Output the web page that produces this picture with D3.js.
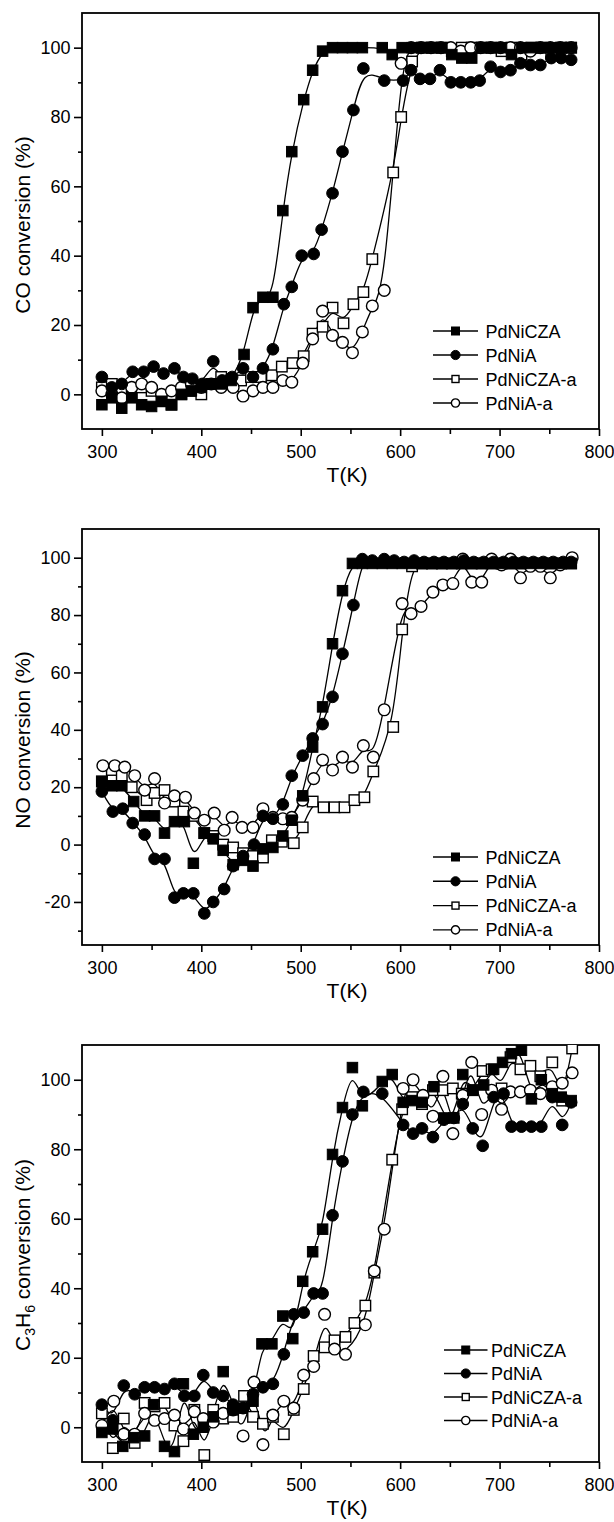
<!DOCTYPE html>
<html>
<head>
<meta charset="utf-8">
<script src="https://cdn.jsdelivr.net/npm/d3@7"></script>
<style>
  body { margin: 0; background: #fff; }
  svg text { font-family: "Liberation Sans", Arial, sans-serif; fill: #000; }
</style>
</head>
<body>
<svg id="chart" width="614" height="1522"></svg>
<script>
// ---- data: [T (K), conversion (%)] ----
const seriesNames = ['PdNiCZA', 'PdNiA', 'PdNiCZA-a', 'PdNiA-a'];

// CO conversion
const coCZA = [[300,-3],[310,-1],[320,-4],[330,-1],[340,-3],[350,-3.5],[360,-2],[370,-3],[380,0],[390,1],[400,2],[410,3],[420,3],[430,4],[443,11.5],[452,25],[462,28],[472,28],[482,53],[491,70],[503,85],[512,93.5],[522,99],[532,100],[542,100],[552,100],[562,100],[582,100],[592,98],[602,100],[612,100],[622,100],[632,100],[642,100],[652,98],[662,97],[672,97],[682,100],[692,100],[702,100],[712,98],[722,100],[732,100],[742,100],[752,100],[762,100],[772,100]];
const coA = [[300,5],[310,2],[320,3],[331,6.5],[342,6.5],[352,8],[362,6],[373,7.5],[382,5],[391,4.5],[401,3],[412,9.5],[421,4],[431,5],[442,7.5],[452,5],[462,7.5],[472,13],[483,26],[491,31],[501,40],[513,40.5],[521,47.5],[532,58],[542,70],[553,82],[563,94],[584,90.5],[603,90.5],[611,93.5],[620,91],[630,91],[640,93.5],[651,90],[661,90],[671,90],[680,90.5],[691,94.5],[701,93],[711,93.5],[721,95.5],[731,95],[741,95],[752,97],[762,97],[772,96.5]];
const coCZAa = [[300,2],[310,3],[320,1],[330,0],[340,2],[350,1],[360,-2],[370,-3],[380,0],[390,1],[400,0],[410,3],[420,5],[430,4],[440,4],[450,5],[460,5],[471,5.5],[481,8],[492,9],[503,11],[512,17.5],[522,19.5],[532,25],[543,20.5],[553,26],[563,29.5],[572,39],[593,64],[601,80],[612,96],[622,100],[632,100],[642,100],[652,99],[662,100],[672,100],[682,100],[692,100],[702,99],[712,100],[722,98],[732,100],[742,100],[752,99],[762,100],[772,100]];
const coAa = [[300,1],[310,0],[320,-1],[330,2],[340,3],[350,2],[360,0],[370,1],[380,2],[390,3],[400,2],[410,3],[420,2],[432,2],[442,-0.5],[452,1],[462,2],[472,2],[482,4],[491,3.5],[502,9],[512,16],[522,24],[532,17],[542,15],[552,12],[562,18],[572,25.5],[584,30],[601,95.5],[611,100],[621,100],[631,100],[641,100],[651,100],[661,99],[671,100],[681,100],[691,100],[701,100],[711,100],[721,100],[731,99],[741,100],[751,100],[761,100],[772,100]];

// NO conversion
const noCZA = [[300,22],[310,20.5],[320,20.5],[332,15],[343,10],[353,10],[363,4],[373,8],[383,8],[392,-6.5],[403,4],[412,2],[422,-2],[432,-7],[442,-5.5],[452,-7.5],[462,-1.5],[472,-1],[482,3],[491,8.5],[502,17],[512,34],[522,48],[532,70],[542,88.5],[552,98],[562,98],[572,98],[582,98],[592,98],[602,98],[612,98],[622,98],[632,98],[642,98],[652,98],[662,98],[672,98],[682,98],[692,98],[702,98],[712,98],[722,98],[732,98],[742,98],[752,98],[762,98],[772,98]];
const noA = [[300,18.5],[311,11.5],[321,12.5],[331,7.5],[343,3.5],[353,-5],[363,-5],[373,-18.5],[382,-17],[392,-17],[403,-24],[412,-20],[423,-15.5],[432,-7.5],[442,-4],[453,0],[462,10],[472,9],[482,14],[491,24],[502,31],[512,37],[522,42],[532,51.5],[542,66.5],[553,83.5],[562,99.5],[572,99],[584,99.5],[594,99],[604,98.5],[614,99],[624,98.5],[634,98.5],[644,98.5],[654,98.5],[664,99],[674,98.5],[684,98.5],[694,98.5],[704,98.5],[714,98.5],[724,98.5],[734,98.5],[744,98.5],[754,98.5],[764,98.5],[772,98.5]];
const noCZAa = [[300,22],[310,26],[320,24],[330,20],[345,15.5],[353,18],[363,19],[373,15],[382,11.5],[392,10],[403,4],[412,3],[422,0],[432,-1],[442,-3],[452,-4],[462,-4.5],[471,1.5],[481,1],[493,0.5],[502,6],[512,15],[523,13],[534,13],[544,13],[554,15.5],[564,16.5],[573,25.5],[593,41],[602,75],[612,97],[622,98],[632,98],[642,98],[652,98],[662,98],[672,98],[682,98],[692,98],[702,98],[712,98],[722,98],[732,98],[742,98],[752,98],[762,98],[772,98]];
const noAa = [[301,27.5],[313,27.5],[323,27],[333,24],[343,19],[353,23],[363,14.5],[373,17],[384,16.5],[393,11],[403,8.5],[413,11],[423,5],[431,9.5],[441,6],[452,6],[462,12.5],[472,9.5],[482,9],[491,9.5],[502,15.5],[513,23],[522,29.5],[532,26],[542,30.5],[552,27],[563,34.5],[573,30.5],[584,47],[602,84],[611,80.5],[621,83],[633,88],[643,90.5],[653,91],[663,99.5],[672,91.5],[682,91.5],[692,99.5],[702,97.5],[711,99.5],[721,93],[731,97],[741,97],[751,93],[761,97.5],[773,100]];

// C3H6 conversion
const hcCZA = [[300,-1.5],[311,-0.5],[321,-5.5],[332,-3],[343,-2.5],[352,6.5],[363,-5.5],[373,-7],[382,12.5],[392,-2],[402,0],[412,3],[422,16],[432,5],[441,5.5],[452,7.5],[461,24],[471,24],[482,32],[492,25.5],[502,42],[512,50.5],[522,57],[532,78.5],[542,92],[552,103.5],[562,92.5],[582,99.5],[592,101.5],[603,93.5],[612,94],[622,93.5],[634,98],[644,89],[654,89],[663,101.5],[673,97],[684,98.5],[694,103],[703,105],[712,107.5],[722,108.5],[732,94.5],[742,100],[753,96],[762,95],[772,94]];
const hcA = [[300,6.5],[311,2],[322,12],[333,9.5],[343,11.5],[353,11.5],[363,11],[373,12.5],[383,9],[393,9],[402,15],[412,10],[422,9],[432,6.5],[442,5.5],[452,9.5],[462,11.5],[472,12.5],[483,21],[493,32.5],[503,33],[513,38.5],[522,38.5],[532,61],[542,76.5],[552,90],[563,96.5],[582,96],[603,87],[613,84.5],[622,86],[633,83.5],[644,88.5],[654,89],[663,93],[673,86],[683,81],[694,95],[704,96],[712,86.5],[722,86.5],[732,86.5],[742,86.5],[753,95],[763,87],[772,93.5]];
const hcCZAa = [[300,4],[311,-6],[322,2.5],[333,-4.5],[343,7],[353,6],[363,7],[373,0.5],[382,-4],[393,5],[403,-8],[412,5],[422,2.5],[432,3],[443,9],[452,3],[462,1],[472,3],[483,-2],[493,5],[503,11],[513,20.5],[524,23],[534,25],[545,26],[554,30],[565,35],[574,44.5],[592,77],[602,91.5],[612,95],[622,93],[633,97],[643,97],[653,97.5],[662,96],[673,97],[683,102.5],[692,103],[702,97.5],[711,106.5],[721,103],[731,104],[741,101],[753,105],[763,94],[773,109]];
const hcAa = [[300,0.5],[312,7.5],[322,-2],[333,-2],[343,4],[353,2],[363,2.5],[373,3.5],[382,-0.5],[393,4.5],[402,2.5],[412,1.5],[422,4],[432,5],[442,-2.5],[453,13],[462,-5],[472,3.5],[483,7.5],[493,5.5],[503,15],[513,17.5],[524,32.5],[534,22.5],[545,21],[565,29.5],[574,45],[584,57],[603,97.5],[613,100],[623,95.5],[633,89.5],[643,101],[653,84.5],[663,95.5],[672,105],[682,90],[692,97],[702,91.5],[711,96.5],[721,96.5],[731,97],[741,96],[753,98],[763,99],[773,102]];

const xMajor = [300, 400, 500, 600, 700, 800];
const xMinor = [350, 450, 550, 650, 750];

// ---- layout ----
const svg = d3.select('#chart');
const plotLeft = 82, plotRight = 599;
const x = d3.scaleLinear().domain([280, 800]).range([plotLeft, plotRight]);

const markers = {
    'PdNiCZA':   { shape: 'square', filled: true },
    'PdNiA':     { shape: 'circle', filled: true },
    'PdNiCZA-a': { shape: 'square', filled: false },
    'PdNiA-a':   { shape: 'circle', filled: false }
};

function drawMarker(sel, name, size) {
    const m = markers[name];
    if (m.shape === 'square') {
        sel.append('rect')
            .attr('x', -size / 2).attr('y', -size / 2)
            .attr('width', size).attr('height', size);
    } else {
        sel.append('circle').attr('r', size / 2 + 0.6);
    }
    sel.selectAll('rect, circle')
        .attr('fill', m.filled ? '#000' : '#fff')
        .attr('stroke', '#000')
        .attr('stroke-width', m.filled ? 1 : 1.4);
}

// plain hyphen for negatives, as in the original figure
const fmt = d => String(d);

function drawPanel(p, idx) {
    const y = d3.scaleLinear().domain(p.yDomain).range([p.bottom, p.top]);
    const g = svg.append('g');

    const clipId = 'clip' + idx;
    svg.append('clipPath').attr('id', clipId)
        .append('rect')
        .attr('x', plotLeft).attr('y', p.top)
        .attr('width', plotRight - plotLeft).attr('height', p.bottom - p.top);

    // axes
    g.append('g').attr('transform', `translate(0,${p.bottom})`)
        .call(d3.axisBottom(x).tickValues(xMajor).tickSize(7).tickPadding(9).tickFormat(fmt));
    g.append('g').attr('transform', `translate(0,${p.bottom})`)
        .call(d3.axisBottom(x).tickValues(xMinor).tickSize(5).tickFormat(''));
    g.append('g').attr('transform', `translate(${plotLeft},0)`)
        .call(d3.axisLeft(y).tickValues(p.yMajor).tickSize(8).tickPadding(3.5).tickFormat(fmt));
    g.append('g').attr('transform', `translate(${plotLeft},0)`)
        .call(d3.axisLeft(y).tickValues(p.yMinor).tickSize(4).tickFormat(''));

    g.selectAll('.domain').remove();
    g.selectAll('.tick line').attr('stroke', '#000').attr('stroke-width', 1.6);
    g.selectAll('.tick text').attr('font-size', 18)
        .style('font-family', '"Liberation Sans", Arial, sans-serif');

    // frame
    g.append('rect')
        .attr('x', plotLeft).attr('y', p.top)
        .attr('width', plotRight - plotLeft).attr('height', p.bottom - p.top)
        .attr('fill', 'none').attr('stroke', '#000').attr('stroke-width', 1.8);

    // axis titles
    g.append('text')
        .attr('x', 347).attr('y', p.bottom + 53)
        .attr('text-anchor', 'middle').attr('font-size', 21)
        .text('T(K)');

    const yTitle = g.append('text')
        .attr('transform', `translate(30,${p.titleY}) rotate(-90)`)
        .attr('text-anchor', 'middle').attr('font-size', 21);
    p.yTitle.forEach(part => {
        const t = yTitle.append('tspan').text(part.text);
        if (part.sub) t.attr('font-size', 14).attr('dy', 5);
        else if (part.after) t.attr('dy', -5);
    });

    // series: open symbols underneath, filled symbols on top
    const line = d3.line()
        .x(d => x(d[0]))
        .y(d => y(d[1]))
        .curve(d3.curveBasis);

    const plot = g.append('g').attr('clip-path', `url(#${clipId})`);
    const order = ['PdNiCZA-a', 'PdNiA-a', 'PdNiA', 'PdNiCZA'];
    order.forEach(name => {
        plot.append('path')
            .datum(p.series[name])
            .attr('d', line)
            .attr('fill', 'none')
            .attr('stroke', '#000')
            .attr('stroke-width', 1.3);
    });
    order.forEach(name => {
        plot.selectAll(null)
            .data(p.series[name])
            .enter()
            .append('g')
            .attr('transform', d => `translate(${x(d[0])},${y(d[1])})`)
            .each(function () { drawMarker(d3.select(this), name, 10.5); });
    });

    // legend
    const lg = g.append('g');
    seriesNames.forEach((name, i) => {
        const ly = p.legend.y0 + i * p.legend.dy;
        lg.append('line')
            .attr('x1', p.legend.x0).attr('x2', p.legend.x1)
            .attr('y1', ly).attr('y2', ly)
            .attr('stroke', '#000').attr('stroke-width', 1.4);
        const mk = lg.append('g').attr('transform', `translate(${(p.legend.x0 + p.legend.x1) / 2},${ly})`);
        drawMarker(mk, name, markers[name].filled ? 8 : 7);
        lg.append('text')
            .attr('x', p.legend.tx).attr('y', ly + 6.5)
            .attr('font-size', 18)
            .text(name);
    });
}

const panels = [
    {
        top: 13, bottom: 429, yDomain: [-10, 110],
        yMajor: [0, 20, 40, 60, 80, 100], yMinor: [10, 30, 50, 70, 90],
        yTitle: [{ text: 'CO conversion (%)' }], titleY: 225,
        series: { 'PdNiCZA': coCZA, 'PdNiA': coA, 'PdNiCZA-a': coCZAa, 'PdNiA-a': coAa },
        legend: { x0: 433, x1: 478, tx: 485.5, y0: 331, dy: 24 }
    },
    {
        top: 529, bottom: 945, yDomain: [-35, 110],
        yMajor: [-20, 0, 20, 40, 60, 80, 100], yMinor: [-30, -10, 10, 30, 50, 70, 90],
        yTitle: [{ text: 'NO conversion (%)' }], titleY: 740,
        series: { 'PdNiCZA': noCZA, 'PdNiA': noA, 'PdNiCZA-a': noCZAa, 'PdNiA-a': noAa },
        legend: { x0: 433, x1: 478, tx: 485.5, y0: 857, dy: 24.3 }
    },
    {
        top: 1045, bottom: 1462, yDomain: [-10, 110],
        yMajor: [0, 20, 40, 60, 80, 100], yMinor: [10, 30, 50, 70, 90],
        yTitle: [{ text: 'C' }, { text: '3', sub: true }, { text: 'H', after: true }, { text: '6', sub: true }, { text: ' conversion (%)', after: true }],
        titleY: 1255,
        series: { 'PdNiCZA': hcCZA, 'PdNiA': hcA, 'PdNiCZA-a': hcCZAa, 'PdNiA-a': hcAa },
        legend: { x0: 444, x1: 487.5, tx: 491, y0: 1350, dy: 23.5 }
    }
];

panels.forEach((p, i) => drawPanel(p, i));
</script>
</body>
</html>
